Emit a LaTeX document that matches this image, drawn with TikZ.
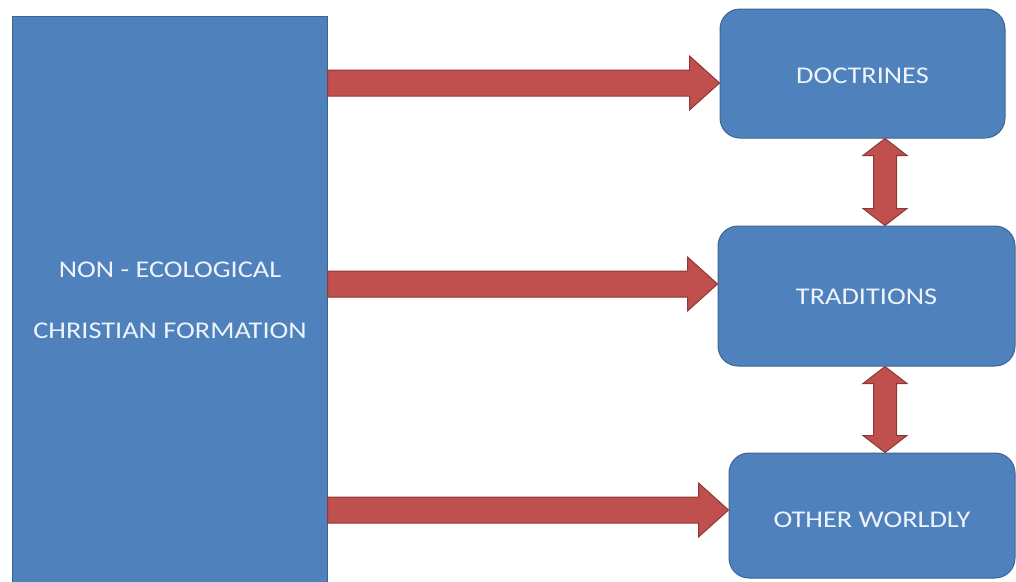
\documentclass[tikz,border=0pt]{standalone}
\usepackage{fontspec}
\newfontfamily\calfont[FakeStretch=1.18]{Carlito}
\usetikzlibrary{calc}
\definecolor{boxblue}{RGB}{79,129,189}
\definecolor{boxedge}{RGB}{60,100,148}
\definecolor{arrred}{RGB}{192,80,77}
\definecolor{arredge}{RGB}{140,56,54}
\definecolor{txtwhite}{RGB}{238,244,252}
\tikzset{
  mainbox/.style={draw=boxedge, fill=boxblue, line width=1pt, rectangle, inner sep=0pt},
  roundbox/.style={mainbox, rounded corners=20pt},
  boxtext/.style={text=txtwhite, font=\calfont\fontsize{24}{61}\selectfont, align=center},
  redarrow/.style={draw=arredge, fill=arrred, line width=1pt, line join=miter},
}
% horizontal block arrow from node #1 (east side) to node #2 (west side) at height #3
\newcommand\hblockarrow[3]{%
  \draw[redarrow] (#1.east |- 0,#3-13)
    -- ($(#2.west |- 0,#3-13)+(-30,0)$)
    -- ($(#2.west |- 0,#3-27)+(-30,0)$)
    -- (#2.west |- 0,#3)
    -- ($(#2.west |- 0,#3+27)+(-30,0)$)
    -- ($(#2.west |- 0,#3+13)+(-30,0)$)
    -- (#1.east |- 0,#3+13) -- cycle;}
% vertical double block arrow between node #1 (above) and node #2 (below) at x=#3
\newcommand\vdblarrow[3]{%
  \draw[redarrow] (#3,0 |- #1.south)
    -- ($(#3+22,0 |- #1.south)+(0,17)$)
    -- ($(#3+11.5,0 |- #1.south)+(0,17)$)
    -- ($(#3+11.5,0 |- #2.north)+(0,-17)$)
    -- ($(#3+22,0 |- #2.north)+(0,-17)$)
    -- (#3,0 |- #2.north)
    -- ($(#3-22,0 |- #2.north)+(0,-17)$)
    -- ($(#3-11.5,0 |- #2.north)+(0,-17)$)
    -- ($(#3-11.5,0 |- #1.south)+(0,17)$)
    -- ($(#3-22,0 |- #1.south)+(0,17)$)
    -- cycle;}
\begin{document}
\begin{tikzpicture}[x=1pt, y=-1pt]
  \useasboundingbox (0,0) rectangle (1016,581);
  \fill[white] (0,0) rectangle (1016,581);
  \clip (0,0) rectangle (1016,581);

  \node[mainbox, minimum width=315pt, minimum height=568pt] (L) at (169.5,300) {};
  \node[boxtext] (Ltext) at (170,300) {NON - ECOLOGICAL\\CHRISTIAN FORMATION};

  \node[roundbox, minimum width=285pt, minimum height=129pt] (D) at (862.5,73.5) {};
  \node[boxtext] (Dtext) at ([yshift=-2pt]D.center) {DOCTRINES};

  \node[roundbox, minimum width=297pt, minimum height=140pt] (T) at (866.5,296) {};
  \node[boxtext] (Ttext) at ([yshift=-1pt]T.center) {TRADITIONS};

  \node[roundbox, minimum width=286pt, minimum height=125pt] (O) at (872,515.5) {};
  \node[boxtext] (Otext) at ([yshift=-4pt]O.center) {OTHER WORLDLY};

  \hblockarrow{L}{D}{83}
  \hblockarrow{L}{T}{284}
  \hblockarrow{L}{O}{510}

  \vdblarrow{D}{T}{885}
  \vdblarrow{T}{O}{885}
\end{tikzpicture}
\end{document}
